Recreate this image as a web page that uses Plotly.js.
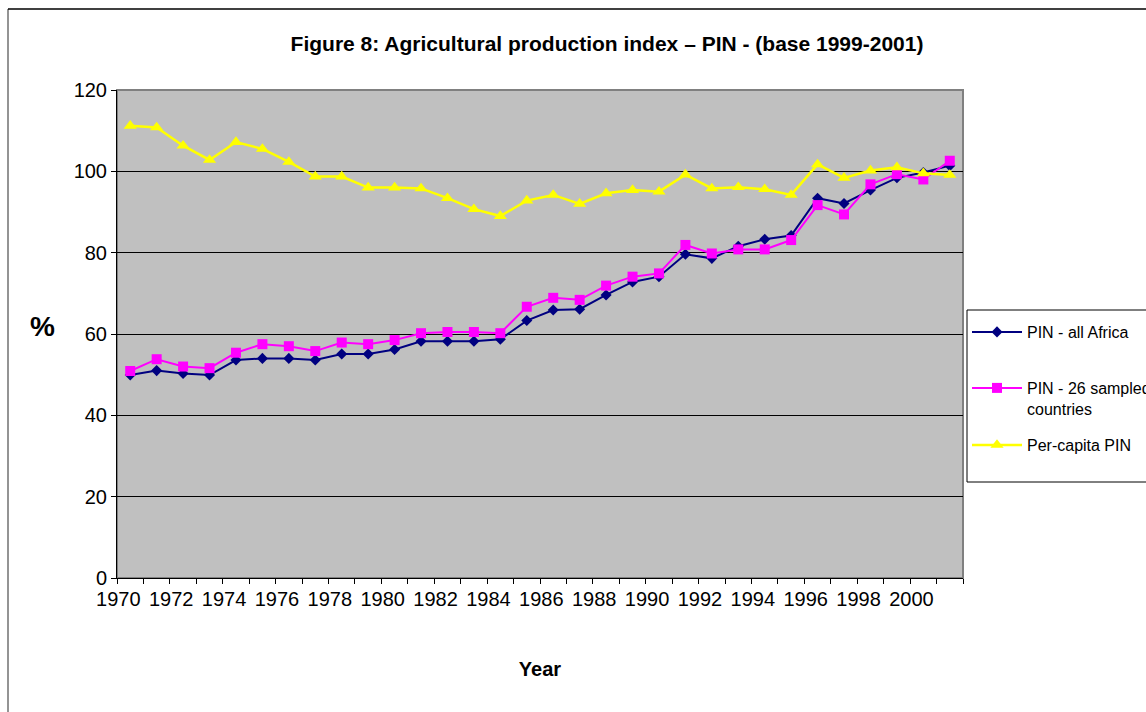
<!DOCTYPE html>
<html>
<head>
<meta charset="utf-8">
<script src="https://cdn.plot.ly/plotly-3.0.1.min.js"></script>
<style>html,body{margin:0;padding:0;background:#fff;}#chart{width:1146px;height:712px;}</style>
</head>
<body>
<div id="chart"></div>
<script>
const years = [1970,1971,1972,1973,1974,1975,1976,1977,1978,1979,1980,1981,1982,1983,1984,1985,1986,1987,1988,1989,1990,1991,1992,1993,1994,1995,1996,1997,1998,1999,2000,2001];
const pinAllAfrica = [49.9,51.0,50.3,49.9,53.6,54.0,54.0,53.6,55.1,55.1,56.2,58.2,58.2,58.2,58.7,63.3,65.9,66.1,69.6,72.8,74.1,79.6,78.6,81.6,83.3,84.2,93.4,92.1,95.4,98.4,99.7,101.4];
const pin26Sampled = [50.9,53.8,52.0,51.6,55.4,57.5,57.0,55.8,57.9,57.5,58.5,60.2,60.5,60.5,60.2,66.7,68.9,68.4,71.9,74.1,74.9,81.9,79.8,80.8,80.8,83.1,91.7,89.4,96.8,99.3,98.0,102.6];
const perCapitaPIN = [111.2,110.8,106.3,102.8,107.2,105.5,102.3,98.7,98.7,96.0,96.0,95.8,93.4,90.7,89.0,92.8,94.2,92.0,94.6,95.4,95.0,99.2,95.8,96.1,95.6,94.2,101.7,98.4,100.2,101.0,99.5,99.1];
const seriesNames = ["PIN - all Africa","PIN - 26 sampled<br>countries","Per-capita PIN"];
const tickYears = [1970,1972,1974,1976,1978,1980,1982,1984,1986,1988,1990,1992,1994,1996,1998,2000];
const tickLabels = tickYears.map(String);

const font = "Liberation Sans, Arial, sans-serif";
const W = 1146, H = 712, L = 117, R = 963, T = 90, B = 578;
const px = v => (v - L) / (R - L);
const py = v => (B - v) / (B - T);

const traces = [
  {x: years, y: pinAllAfrica, name: seriesNames[0], type: "scatter", mode: "lines+markers",
   line: {color: "#000080", width: 2}, marker: {symbol: "diamond", size: 8.5, color: "#000080"}, legend: "legend"},
  {x: years, y: pin26Sampled, name: seriesNames[1], type: "scatter", mode: "lines+markers",
   line: {color: "#ff00ff", width: 2}, marker: {symbol: "square", size: 10, color: "#ff00ff"}, legend: "legend2"},
  {x: years, y: perCapitaPIN, name: seriesNames[2], type: "scatter", mode: "lines+markers",
   line: {color: "#ffff00", width: 2.5}, marker: {symbol: "triangle-up", size: 11.5, color: "#ffff00"}, legend: "legend3"},
  {x: [years[0]], y: [null], xaxis: "x2", showlegend: false, hoverinfo: "skip", mode: "markers"}
];

function legendAt(topPix) {
  return {xref: "container", yref: "container", x: 967 / W, xanchor: "left", y: 1 - topPix / H, yanchor: "top",
          bgcolor: "rgba(0,0,0,0)", borderwidth: 0, font: {family: font, size: 16, color: "#000"},
          itemwidth: 50, valign: "top"};
}

const layout = {
  width: W, height: H,
  paper_bgcolor: "#ffffff", plot_bgcolor: "#c0c0c0",
  margin: {l: L, r: W - R, t: T, b: H - B},
  font: {family: font, color: "#000"},
  title: {text: "<b>Figure 8: Agricultural production index – PIN - (base 1999-2001)</b>",
          font: {family: font, size: 21, color: "#000"}, x: 607 / W, xanchor: "center", y: 1 - 44 / H, yanchor: "middle"},
  xaxis: {range: [1969.5, 2001.5], tickmode: "array",
          tickvals: years.map(v => v - 0.5).concat([2001.5]),
          showticklabels: false, ticks: "outside", ticklen: 5, tickcolor: "#000",
          showgrid: false, zeroline: false, showline: true, linecolor: "#000", linewidth: 1, fixedrange: true},
  xaxis2: {overlaying: "x", anchor: "y", side: "bottom", range: [1969.5, 2001.5], tickmode: "array",
           tickvals: tickYears.map(v => v - 0.45), ticktext: tickLabels, ticks: "", showgrid: false,
           zeroline: false, showline: false, ticklabelstandoff: 7, tickfont: {family: font, size: 20, color: "#000"},
           title: {text: "<b>Year</b>", font: {family: font, size: 20, color: "#000"}, standoff: 52}},
  yaxis: {range: [0, 120], dtick: 20, tick0: 0, ticks: "outside", ticklen: 5, tickcolor: "#000",
          showgrid: true, gridcolor: "#000", gridwidth: 1, zeroline: false, showline: true,
          linecolor: "#000", linewidth: 1, tickfont: {family: font, size: 20, color: "#000"}, fixedrange: true},
  showlegend: true,
  legend: legendAt(315),
  legend2: legendAt(371),
  legend3: legendAt(428),
  annotations: [
    {text: "<b>%</b>", xref: "paper", yref: "paper", x: px(42), y: py(326),
     showarrow: false, font: {family: font, size: 28, color: "#000"}, xanchor: "center", yanchor: "middle"}
  ],
  shapes: [
    {type: "rect", xref: "paper", yref: "paper", x0: 0, x1: 1, y0: 0, y1: 1, line: {color: "#808080", width: 2}, layer: "below"},
    {type: "rect", xref: "paper", yref: "paper", x0: px(967), x1: px(1160), y0: py(482), y1: py(310),
     fillcolor: "#ffffff", line: {color: "#000", width: 1}, layer: "below"},
    {type: "line", xref: "paper", yref: "paper", x0: px(8), x1: px(8), y0: py(9), y1: py(760), line: {color: "#707070", width: 1.5}},
    {type: "line", xref: "paper", yref: "paper", x0: px(8), x1: px(1160), y0: py(9), y1: py(9), line: {color: "#000", width: 1.5}}
  ]
};
Plotly.newPlot("chart", traces, layout, {displayModeBar: false, staticPlot: true});
</script>
</body>
</html>
